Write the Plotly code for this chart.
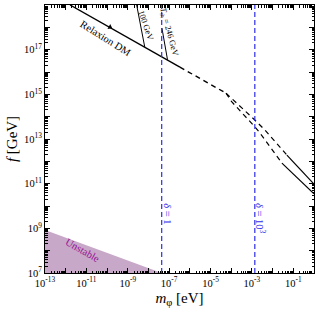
import plotly.graph_objects as go

# ---- data (log10 values) ----
relaxion_solid_logm = [-11.79, -6.48]
relaxion_solid_logf = [19.0, 16.22]
relaxion_dash_logm = [-6.48, -4.25]
relaxion_dash_logf = [16.22, 15.05]
upper_dash_logm = [-4.25, -4.06, -2.86, -2.37, -1.31]
upper_dash_logf = [15.05, 14.89, 13.85, 13.40, 12.28]
upper_solid_logm = [-1.31, 0.0]
upper_solid_logf = [12.28, 10.98]
lower_dash_logm = [-4.25, -3.98, -2.86, -2.61, -1.55]
lower_dash_logf = [15.05, 14.67, 13.55, 13.27, 11.92]
lower_solid_logm = [-1.55, 0.0]
lower_solid_logf = [11.92, 10.55]
gev100_logm = [-8.57, -8.18]
gev100_logf = [19.0, 17.12]
trh_logm = [-7.35, -7.08]
trh_logf = [17.97, 16.55]
delta1_logm = -7.36
delta1000_logm = -2.86
unstable_logm = [-13.0, -13.0, -7.36, -13.0]
unstable_logf = [8.92, 7.0, 7.0, 8.92]
arrow_logm = [-9.86]
arrow_logf = [18.01]

x_label_decades = [-13, -11, -9, -7, -5, -3, -1]
x_labels = ["10<sup>-13</sup>", "10<sup>-11</sup>", "10<sup>-9</sup>", "10<sup>-7</sup>",
            "10<sup>-5</sup>", "10<sup>-3</sup>", "10<sup>-1</sup>"]
x_other_decades = [-12, -10, -8, -6, -4, -2, 0]
y_label_decades = [7, 9, 11, 13, 15, 17, 19]
y_labels = ["10<sup>7</sup>", "10<sup>9</sup>", "10<sup>11</sup>", "10<sup>13</sup>",
            "10<sup>15</sup>", "10<sup>17</sup>", "10<sup>19</sup>"]
y_other_decades = [8, 10, 12, 14, 16, 18]


def p(v):
    return [10 ** e for e in v]


FONT = "Liberation Serif"
BLUE = "rgb(45,45,235)"
PURPLE = "rgb(150,20,150)"

fig = go.Figure()

fig.add_trace(go.Scatter(x=p(unstable_logm), y=p(unstable_logf), fill="toself",
                         fillcolor="rgb(200,168,200)", line=dict(width=0),
                         mode="lines", hoverinfo="skip"))

for xs, ys, dash, w in [
    (relaxion_solid_logm, relaxion_solid_logf, "solid", 1.4),
    (relaxion_dash_logm, relaxion_dash_logf, "5px,4px", 1.4),
    (upper_dash_logm, upper_dash_logf, "5px,4px", 1.2),
    (upper_solid_logm, upper_solid_logf, "solid", 1.2),
    (lower_dash_logm, lower_dash_logf, "5px,4px", 1.2),
    (lower_solid_logm, lower_solid_logf, "solid", 1.2),
    (gev100_logm, gev100_logf, "solid", 1.0),
    (trh_logm, trh_logf, "solid", 1.0),
]:
    fig.add_trace(go.Scatter(x=p(xs), y=p(ys), mode="lines",
                             line=dict(color="black", width=w, dash=dash)))

for xv in [delta1_logm, delta1000_logm]:
    fig.add_trace(go.Scatter(x=p([xv, xv]), y=p([7, 19]), mode="lines",
                             line=dict(color=BLUE, width=1.2, dash="5px,3px")))

fig.add_trace(go.Scatter(x=p(arrow_logm), y=p(arrow_logf), mode="markers",
                         marker=dict(symbol="triangle-right", size=5, angle=29,
                                     color="black")))

ann = [
    dict(x=-10.05, y=17.52, text="Relaxion DM", textangle=32, size=10.5, color="black"),
    dict(x=-8.10, y=18.06, text="100 GeV", textangle=71, size=8.5, color="black"),
    dict(x=-7.01, y=17.75, text="<i>T</i><sub>rh</sub> = 246 GeV", textangle=75, size=8.5, color="black"),
    dict(x=-7.06, y=9.64, text="<i>δ</i> = 1", textangle=90, size=10.5, color=BLUE),
    dict(x=-2.61, y=9.42, text="<i>δ</i> = 10<sup>3</sup>", textangle=90, size=10.5, color=BLUE),
    dict(x=-11.16, y=8.03, text="Unstable", textangle=30, size=10.5, color=PURPLE),
]
for a in ann:
    fig.add_annotation(x=a["x"], y=a["y"], xref="x", yref="y", text=a["text"],
                       textangle=a["textangle"], showarrow=False,
                       font=dict(family=FONT, size=a["size"], color=a["color"]))

axis_common = dict(type="log", showgrid=False, zeroline=False, showline=True,
                   linecolor="black", linewidth=1, mirror="allticks",
                   ticks="inside", ticklen=5, tickcolor="black", tickwidth=1,
                   tickfont=dict(family=FONT, size=10.5, color="black"),
                   minor=dict(ticks="inside", ticklen=2.5, dtick="D1",
                              tickcolor="black", showgrid=False))

fig.update_xaxes(range=[-13, 0], tickmode="array", tickvals=p(x_label_decades),
                 ticktext=x_labels,
                 title=dict(text="<i>m</i><sub>φ</sub> [eV]", standoff=4,
                            font=dict(family=FONT, size=15, color="black")),
                 **axis_common)
fig.update_yaxes(range=[7, 19], tickmode="array", tickvals=p(y_label_decades),
                 ticktext=y_labels,
                 title=dict(text="<i>f</i> [GeV]", standoff=2,
                            font=dict(family=FONT, size=15, color="black")),
                 **axis_common)

# extra (unlabelled) decade ticks on overlaying axes
extra = dict(type="log", showgrid=False, zeroline=False, showline=False,
             showticklabels=False, ticks="inside", ticklen=5, tickcolor="black",
             tickwidth=1, mirror="ticks", tickmode="array")
fig.update_layout(
    xaxis2=dict(overlaying="x", range=[-13, 0], tickvals=p(x_other_decades), **extra),
    yaxis2=dict(overlaying="y", range=[7, 19], tickvals=p(y_other_decades), **extra),
)
fig.add_trace(go.Scatter(x=p([-13]), y=p([7]), xaxis="x2", yaxis="y2", mode="markers",
                         marker=dict(size=0.1, opacity=0), hoverinfo="skip"))

fig.update_layout(width=318, height=312, showlegend=False,
                  margin=dict(l=45, r=4, t=5, b=39),
                  paper_bgcolor="white", plot_bgcolor="white")

fig.write_html("out.html", config={"displayModeBar": False},
               post_script="document.body.style.margin='0px';")
